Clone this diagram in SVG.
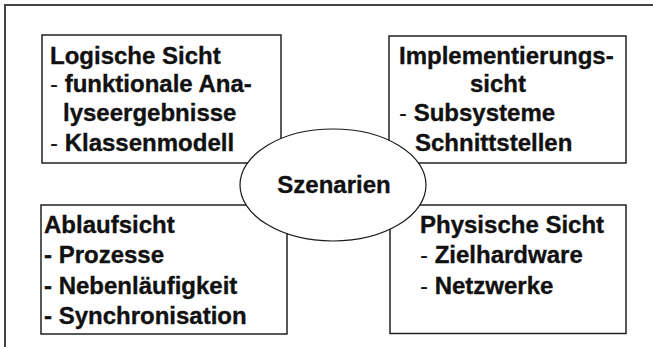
<svg xmlns="http://www.w3.org/2000/svg" width="653" height="347" viewBox="0 0 653 347">
<style>
.box{fill:#fff;stroke:#222;stroke-width:1.5}
.t{font-family:"Liberation Sans",Arial,sans-serif;font-size:24px;font-weight:bold;fill:#111;stroke:#111;stroke-width:0.35}
.n{font-weight:normal;stroke-width:0}
</style>
<rect width="653" height="347" fill="#fff"/>
<g id="frame"><path d="M5,347 V5 H653" fill="none" stroke="#444" stroke-width="2"/></g>
<g id="logische">
<rect class="box" x="42" y="35" width="239" height="128"/>
<text class="t" x="50" y="64">Logische Sicht</text>
<text class="t" x="50" y="92"><tspan class="n">- </tspan>funktionale Ana-</text>
<text class="t" x="63" y="121">lyseergebnisse</text>
<text class="t" x="50" y="151"><tspan class="n">- </tspan>Klassenmodell</text>
</g>
<g id="implementierung">
<rect class="box" x="389" y="36" width="237" height="127"/>
<text class="t" x="399" y="64">Implementierungs-</text>
<text class="t" x="470" y="92">sicht</text>
<text class="t" x="399" y="121"><tspan class="n">- </tspan>Subsysteme</text>
<text class="t" x="415" y="151">Schnittstellen</text>
</g>
<g id="ablauf">
<rect class="box" x="41" y="205" width="246" height="129"/>
<text class="t" x="44" y="233">Ablaufsicht</text>
<text class="t" x="44" y="263">- Prozesse</text>
<text class="t" x="44" y="294">- Nebenläufigkeit</text>
<text class="t" x="44" y="324">- Synchronisation</text>
</g>
<g id="physisch">
<rect class="box" x="390" y="205" width="236" height="128.5"/>
<text class="t" x="420" y="233">Physische Sicht</text>
<text class="t" x="420" y="263"><tspan class="n">- </tspan>Zielhardware</text>
<text class="t" x="420" y="294"><tspan class="n">- </tspan>Netzwerke</text>
</g>
<g id="connectors"></g>
<g id="szenarien">
<ellipse cx="333" cy="185" rx="93" ry="56" fill="#fff" stroke="#1a1a1a" stroke-width="1.2"/>
<text class="t" x="334" y="193" text-anchor="middle">Szenarien</text>
</g>
</svg>
